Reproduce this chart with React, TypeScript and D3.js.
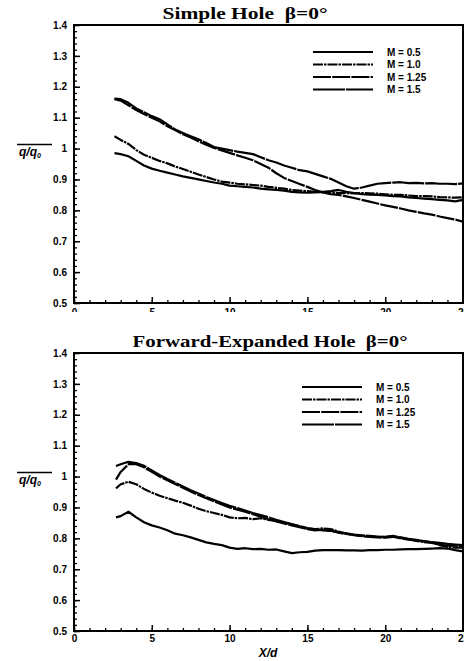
import { useEffect, useRef } from "react";
import * as d3 from "d3";

const W = 464;
const H = 661;

const legendLabels = ["M = 0.5", "M = 1.0", "M = 1.25", "M = 1.5"];
const yTicks = [0.5, 0.6, 0.7, 0.8, 0.9, 1.0, 1.1, 1.2, 1.3, 1.4];
const xTicks = [0, 5, 10, 15, 20, 25];

// Simple Hole
const xTop = [2.6, 3, 3.5, 4, 4.5, 5, 5.5, 6, 6.5, 7, 7.5, 8, 8.5, 9, 9.5, 10, 10.5, 11, 11.5, 12, 12.5, 13, 13.5, 14, 14.5, 15, 15.5, 16, 16.5, 17, 17.5, 18, 18.5, 19, 19.5, 20, 20.5, 21, 21.5, 22, 22.5, 23, 23.5, 24, 24.5, 25];
const topM05 = [0.985, 0.982, 0.975, 0.96, 0.945, 0.935, 0.928, 0.922, 0.916, 0.91, 0.905, 0.9, 0.895, 0.89, 0.886, 0.88, 0.878, 0.876, 0.874, 0.87, 0.868, 0.866, 0.864, 0.86, 0.858, 0.857, 0.858, 0.86, 0.862, 0.866, 0.86, 0.856, 0.852, 0.851, 0.85, 0.848, 0.846, 0.845, 0.842, 0.84, 0.838, 0.836, 0.834, 0.832, 0.829, 0.834];
const topM10 = [1.04, 1.028, 1.015, 0.995, 0.98, 0.97, 0.96, 0.952, 0.942, 0.934, 0.925, 0.916, 0.908, 0.9, 0.893, 0.89, 0.886, 0.884, 0.882, 0.88, 0.876, 0.873, 0.87, 0.866, 0.864, 0.862, 0.86, 0.858, 0.857, 0.856, 0.856, 0.855, 0.856, 0.855, 0.854, 0.852, 0.85, 0.85, 0.848, 0.846, 0.846, 0.845, 0.843, 0.842, 0.841, 0.842];
const topM125 = [1.16, 1.155, 1.14, 1.125, 1.112, 1.1, 1.088, 1.072, 1.06, 1.046, 1.036, 1.024, 1.012, 1.002, 0.994, 0.986, 0.978, 0.97, 0.962, 0.95, 0.938, 0.92, 0.905, 0.895, 0.885, 0.876, 0.866, 0.858, 0.852, 0.85, 0.845, 0.84, 0.834, 0.828, 0.822, 0.816, 0.811, 0.806, 0.8, 0.795, 0.79, 0.786, 0.78, 0.775, 0.77, 0.763];
const topM15 = [1.162, 1.16, 1.148, 1.13, 1.118, 1.105, 1.095, 1.078, 1.062, 1.05, 1.04, 1.03, 1.018, 1.005, 1.0, 0.995, 0.99, 0.986, 0.982, 0.972, 0.962, 0.955, 0.945, 0.938, 0.93, 0.926, 0.918, 0.91, 0.902, 0.89, 0.878, 0.87, 0.874, 0.88, 0.886, 0.888, 0.89, 0.891, 0.888, 0.889, 0.887, 0.888, 0.886, 0.886, 0.885, 0.887];

// Forward-Expanded Hole
const xBottom = [2.7, 3, 3.5, 4, 4.5, 5, 5.5, 6, 6.5, 7, 7.5, 8, 8.5, 9, 9.5, 10, 10.5, 11, 11.5, 12, 12.5, 13, 13.5, 14, 14.5, 15, 15.5, 16, 16.5, 17, 17.5, 18, 18.5, 19, 19.5, 20, 20.5, 21, 21.5, 22, 22.5, 23, 23.5, 24, 24.5, 25];
const botM05 = [0.868, 0.872, 0.886, 0.868, 0.852, 0.842, 0.835, 0.826, 0.815, 0.81, 0.803, 0.795, 0.787, 0.782, 0.778, 0.77, 0.766, 0.768, 0.765, 0.766, 0.763, 0.764, 0.758, 0.752, 0.755, 0.756, 0.76, 0.762, 0.762, 0.762, 0.761, 0.761, 0.76, 0.762, 0.762, 0.763, 0.763, 0.764, 0.765, 0.765, 0.766, 0.767, 0.768, 0.767, 0.762, 0.758];
const botM10 = [0.962, 0.975, 0.983, 0.975, 0.96, 0.948, 0.938, 0.93, 0.922, 0.915, 0.906, 0.896, 0.888, 0.882, 0.876, 0.868, 0.865, 0.866, 0.862, 0.865, 0.86, 0.856, 0.85, 0.845, 0.838, 0.832, 0.83, 0.832, 0.83, 0.822, 0.815, 0.811, 0.808, 0.806, 0.805, 0.804, 0.806, 0.802, 0.797, 0.792, 0.788, 0.785, 0.778, 0.772, 0.77, 0.77];
const botM125 = [0.99, 1.015, 1.04, 1.04, 1.03, 1.015, 1.0, 0.988, 0.976, 0.964, 0.952, 0.94, 0.93, 0.92, 0.91, 0.9, 0.893, 0.886, 0.878, 0.87, 0.862, 0.855, 0.848, 0.842, 0.836, 0.83, 0.826, 0.828, 0.825, 0.818, 0.814, 0.81, 0.807, 0.805, 0.803, 0.802, 0.805, 0.8, 0.796, 0.793, 0.791, 0.786, 0.78, 0.776, 0.776, 0.775];
const botM15 = [1.034, 1.04, 1.048, 1.044, 1.035, 1.02, 1.005, 0.992, 0.98, 0.968, 0.956, 0.945, 0.934, 0.924, 0.914, 0.905, 0.898, 0.89, 0.882, 0.875, 0.868, 0.86, 0.853, 0.846, 0.84, 0.833, 0.829, 0.826, 0.824, 0.82, 0.816, 0.812, 0.81, 0.808, 0.806, 0.805, 0.808, 0.803, 0.798, 0.795, 0.79, 0.788, 0.785, 0.782, 0.78, 0.778];

const dashes = ["none", "10 1 2.5 1", "18 1.2", "32 1"];
const font = "'Liberation Sans', Arial, sans-serif";

const Panel = ({ title, titleX, titleW, top, bottom, xs, series, clipId, legendX, legendY }) => {
  const gRef = useRef(null);

  useEffect(() => {
    const g = d3.select(gRef.current);
    g.selectAll("*").remove();

    const x = d3.scaleLinear().domain([0, 25]).range([74, 463]);
    const y = d3.scaleLinear().domain([0.5, 1.4]).range([bottom, top]);

    g.append("text")
      .attr("x", titleX - titleW / 2)
      .attr("y", top - 6)
      .attr("font-family", "'Liberation Serif', 'Times New Roman', serif")
      .attr("font-size", 17)
      .attr("font-weight", "bold")
      .attr("textLength", titleW)
      .attr("lengthAdjust", "spacingAndGlyphs")
      .style("white-space", "pre")
      .text(title);

    // minor ticks
    g.append("g")
      .attr("transform", `translate(${x(0)},0)`)
      .call(d3.axisLeft(y).tickValues(d3.range(0.5, 1.401, 0.02)).tickSize(-3).tickFormat(() => ""))
      .call((s) => s.select(".domain").remove())
      .selectAll("line").attr("stroke-width", 1.3);
    g.append("g")
      .attr("transform", `translate(0,${y(0.5)})`)
      .call(d3.axisBottom(x).tickValues(d3.range(0, 25.01, 1)).tickSize(-3).tickFormat(() => ""))
      .call((s) => s.select(".domain").remove())
      .selectAll("line").attr("stroke-width", 1.3);

    // major ticks + labels
    const ya = g.append("g")
      .attr("transform", `translate(${x(0)},0)`)
      .call(d3.axisLeft(y).tickValues(yTicks).tickSize(-6).tickPadding(7)
        .tickFormat((d) => (d === 1 ? "1" : d3.format(".1f")(d))));
    ya.select(".domain").remove();
    ya.selectAll("line").attr("stroke-width", 1.5);
    ya.attr("font-family", font).attr("font-size", 10).attr("font-weight", "bold");

    const xg = g.append("g");
    if (clipId) {
      g.append("clipPath").attr("id", clipId)
        .append("rect").attr("x", 0).attr("y", y(0.5) + 3).attr("width", W).attr("height", 6);
      xg.attr("clip-path", `url(#${clipId})`);
    }
    const xa = xg.append("g")
      .attr("transform", `translate(0,${y(0.5)})`)
      .call(d3.axisBottom(x).tickValues(xTicks).tickSize(clipId ? 0 : -6).tickPadding(clipId ? 6 : 4));
    xa.select(".domain").remove();
    xa.selectAll("line").attr("stroke-width", 1.5);
    xa.attr("font-family", font).attr("font-size", 10).attr("font-weight", "bold");
    if (clipId) {
      g.append("g")
        .attr("transform", `translate(0,${y(0.5)})`)
        .call(d3.axisBottom(x).tickValues(xTicks).tickSize(-6).tickFormat(() => ""))
        .call((s) => s.select(".domain").remove())
        .selectAll("line").attr("stroke-width", 1.5);
    }

    // frame
    g.append("rect")
      .attr("x", x(0))
      .attr("y", y(1.4))
      .attr("width", x(25) - x(0))
      .attr("height", y(0.5) - y(1.4))
      .attr("fill", "none")
      .attr("stroke", "#000")
      .attr("stroke-width", 2);

    // y label q/q0 with overline
    const ly = y(1.0);
    g.append("line")
      .attr("x1", 17).attr("x2", 52)
      .attr("y1", ly - 4).attr("y2", ly - 4)
      .attr("stroke", "#000").attr("stroke-width", 1.5);
    const lt = g.append("text")
      .attr("x", 19)
      .attr("y", ly + 7)
      .attr("font-family", font)
      .attr("font-size", 12)
      .attr("font-weight", "bold")
      .attr("font-style", "italic");
    lt.append("tspan").text("q/q");
    lt.append("tspan").attr("font-size", 7).attr("dy", 2).text("0");

    // curves
    const line = d3.line().x((d) => x(d[0])).y((d) => y(d[1]));
    series.forEach((vals, i) => {
      g.append("path")
        .datum(xs.map((xv, j) => [xv, vals[j]]))
        .attr("fill", "none")
        .attr("stroke", "#000")
        .attr("stroke-width", 2.2)
        .attr("stroke-linejoin", "round")
        .attr("stroke-dasharray", dashes[i])
        .attr("d", line);
    });

    // legend
    legendLabels.forEach((lab, i) => {
      const ry = legendY + i * 12.5;
      g.append("line")
        .attr("x1", legendX).attr("x2", legendX + 60)
        .attr("y1", ry).attr("y2", ry)
        .attr("stroke", "#000").attr("stroke-width", 2.2)
        .attr("stroke-dasharray", dashes[i]);
      g.append("text")
        .attr("x", legendX + 74)
        .attr("y", ry + 3.5)
        .attr("font-family", font)
        .attr("font-size", 10)
        .attr("font-weight", "bold")
        .text(lab);
    });
  }, [title, titleX, titleW, top, bottom, xs, series, clipId, legendX, legendY]);

  return <g ref={gRef}></g>;
};

const App = () => {
  return (
    <svg
      width={W}
      height={H}
      style={{ position: "absolute", left: 0, top: 0, background: "#fff" }}
    >
      <rect width={W} height={H} fill="#fff" />
      <Panel
        title="Simple Hole  β=0°"
        titleX={245}
        titleW={165}
        top={25}
        bottom={303}
        xs={xTop}
        series={[topM05, topM10, topM125, topM15]}
        clipId="topclip"
        legendX={313}
        legendY={52}
      />
      <Panel
        title="Forward-Expanded Hole  β=0°"
        titleX={270}
        titleW={275}
        top={353}
        bottom={631}
        xs={xBottom}
        series={[botM05, botM10, botM125, botM15]}
        clipId={null}
        legendX={302}
        legendY={387}
      />
      <text
        x={268}
        y={657}
        textAnchor="middle"
        fontFamily={font}
        fontSize={12}
        fontWeight="bold"
        fontStyle="italic"
      >
        X/d
      </text>
    </svg>
  );
};

export default App;
